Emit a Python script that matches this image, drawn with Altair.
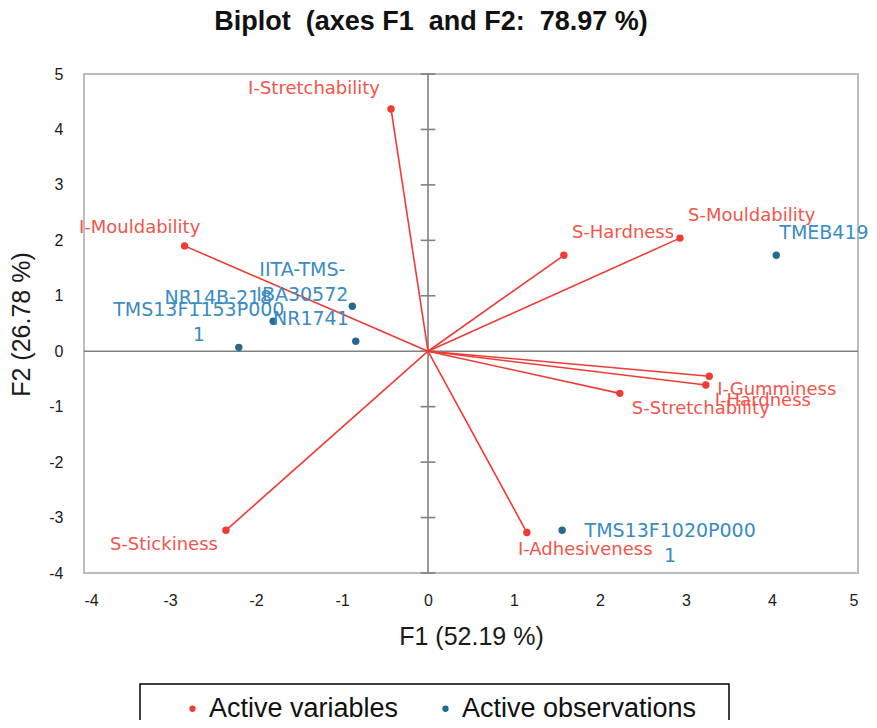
import altair as alt
import pandas as pd

# ---------------- data ----------------
TITLE = "Biplot\u00a0 (axes F1\u00a0 and F2:\u00a0 78.97 %)"
X_TITLE = "F1 (52.19 %)"
Y_TITLE = "F2 (26.78 %)"
AXIS_VALUES = [-4, -3, -2, -1, 0, 1, 2, 3, 4, 5]
LEGEND_LABELS = ["Active variables", "Active observations"]

VAR_NAMES = ["I-Stretchability", "I-Mouldability", "S-Hardness", "S-Mouldability",
             "I-Gumminess", "I-Hardness", "S-Stretchability", "S-Stickiness",
             "I-Adhesiveness"]
VAR_F1 = [-0.43, -2.83, 1.58, 2.93, 3.27, 3.23, 2.23, -2.35, 1.15]
VAR_F2 = [4.37, 1.90, 1.73, 2.04, -0.45, -0.61, -0.76, -3.23, -3.27]

OBS_NAMES = ["TMEB419", "IITA-TMS-IBA30572", "NR14B-218", "NR1741",
             "TMS13F1153P0001", "TMS13F1020P0001"]
OBS_LABELS = ["TMEB419", "IITA-TMS-\nIBA30572", "NR14B-218", "NR1741",
              "TMS13F1153P000\n1", "TMS13F1020P000\n1"]
OBS_F1 = [4.05, -0.88, -1.80, -0.84, -2.20, 1.56]
OBS_F2 = [1.73, 0.81, 0.54, 0.18, 0.07, -3.23]

# ---------------- label placement (style) ----------------
PLACE = {
    "I-Stretchability": ("right", -11, -20),
    "I-Mouldability": ("center", -45, -18),
    "S-Hardness": ("left", 8, -22),
    "S-Mouldability": ("left", 8, -22),
    "I-Gumminess": ("left", 8, 14),
    "I-Hardness": ("left", 9, 16),
    "S-Stretchability": ("left", 12, 16),
    "S-Stickiness": ("right", -8, 15),
    "I-Adhesiveness": ("left", -9, 17),
    "TMEB419": ("left", 3, -22),
    "IITA-TMS-IBA30572": ("center", -50, -36),
    "NR14B-218": ("right", -1, -23),
    "NR1741": ("right", -7, -22),
    "TMS13F1153P0001": ("center", -40, -37),
    "TMS13F1020P0001": ("center", 108, 1),
}

VAR_LINE = "#EF3B36"
VAR_TEXT = "#F2554C"
OBS_POINT = "#27698F"
OBS_TEXT = "#3A8CC2"
AXIS_GRAY = "#808080"
LABEL_FONT = "DejaVu Sans"

var_df = pd.DataFrame({"name": VAR_NAMES, "label": VAR_NAMES,
                       "F1": VAR_F1, "F2": VAR_F2, "type": LEGEND_LABELS[0]})
obs_df = pd.DataFrame({"name": OBS_NAMES, "label": OBS_LABELS,
                       "F1": OBS_F1, "F2": OBS_F2, "type": LEGEND_LABELS[1]})
pts_df = pd.concat([var_df, obs_df], ignore_index=True)
ticks_df = pd.DataFrame({"t": AXIS_VALUES})

SX = alt.Scale(domain=[-4, 5], nice=False, zero=False)
SY = alt.Scale(domain=[-4, 5], nice=False, zero=False)
AX = alt.Axis(title=X_TITLE, values=AXIS_VALUES, labelPadding=19,
              labelExpr="'' + datum.value",
              titleY=63, titleBaseline="middle")
AY = alt.Axis(title=Y_TITLE, values=AXIS_VALUES, labelPadding=21,
              labelExpr="'' + datum.value",
              titleX=-63, titleY=250, titleBaseline="middle")


def X(field):
    return alt.X(field, type="quantitative", scale=SX, axis=AX)


def Y(field):
    return alt.Y(field, type="quantitative", scale=SY, axis=AY)


# zero lines
hline = alt.Chart(ticks_df).transform_filter(alt.datum.t == 0).mark_rule(
    color=AXIS_GRAY, strokeWidth=1.6).encode(y=Y("t"))
vline = alt.Chart(ticks_df).transform_filter(alt.datum.t == 0).mark_rule(
    color=AXIS_GRAY, strokeWidth=1.6).encode(x=X("t"))

# tick marks on the vertical zero line
vticks = alt.Chart(ticks_df).transform_calculate(z="0").mark_point(
    shape="stroke", size=220, color=AXIS_GRAY, strokeWidth=1.6, opacity=1
).encode(x=X("z"), y=Y("t"))

# variable vectors
vectors = alt.Chart(var_df).transform_calculate(z="0").mark_rule(
    color=VAR_LINE, strokeWidth=1.6
).encode(x=X("z"), y=Y("z"), x2="F1:Q", y2="F2:Q")

points = alt.Chart(pts_df).mark_circle(size=55, opacity=1).encode(
    x=X("F1"), y=Y("F2"),
    color=alt.Color(
        "type:N",
        scale=alt.Scale(domain=LEGEND_LABELS, range=[VAR_LINE, OBS_POINT]),
        legend=alt.Legend(
            orient="none", legendX=56, legendY=610, direction="horizontal",
            title="\u00a0", titleOrient="right", titlePadding=22, titleFontSize=12,
            strokeColor="black", padding=11,
            labelFont="Liberation Sans", labelFontSize=27, labelColor="#111111",
            labelLimit=500,
            symbolType="circle", symbolSize=40, symbolStrokeWidth=0,
            labelOffset=3, columnPadding=5, symbolOffset=28,
        ),
    ),
)

label_layers = []
for df, color, fs in ((var_df, VAR_TEXT, 18), (obs_df, OBS_TEXT, 19)):
    for n in df["name"]:
        align, dx, dy = PLACE[n]
        label_layers.append(
            alt.Chart(df).transform_filter(alt.datum.name == n).mark_text(
                align=align, baseline="middle", dx=dx, dy=dy,
                font=LABEL_FONT, fontSize=fs, color=color,
                lineBreak="\n", lineHeight=25,
            ).encode(x=X("F1"), y=Y("F2"), text="label:N")
        )

chart = alt.layer(hline, vline, vticks, vectors, points, *label_layers).properties(
    width=774, height=499,
    autosize=alt.AutoSizeParams(type="none"),
    padding={"left": 76, "top": 66, "right": 11, "bottom": 147},
    title=alt.TitleParams(
        TITLE, font="Liberation Sans", fontSize=27, fontWeight="bold",
        color="#111111", anchor="middle", offset=30, dx=-40,
    ),
).configure_view(
    stroke="#BDBDBD", strokeWidth=2
).configure_axis(
    domain=False, ticks=False, tickSize=0, grid=False,
    labelFont="Liberation Sans", labelFontSize=16, labelColor="#1a1a1a",
    titleFont="Liberation Sans", titleFontSize=25, titleFontWeight="normal",
    titleColor="#1a1a1a",
).configure_legend(strokeWidth=1.5)

chart.save("out.html", embed_options={"renderer": "svg", "actions": False})
